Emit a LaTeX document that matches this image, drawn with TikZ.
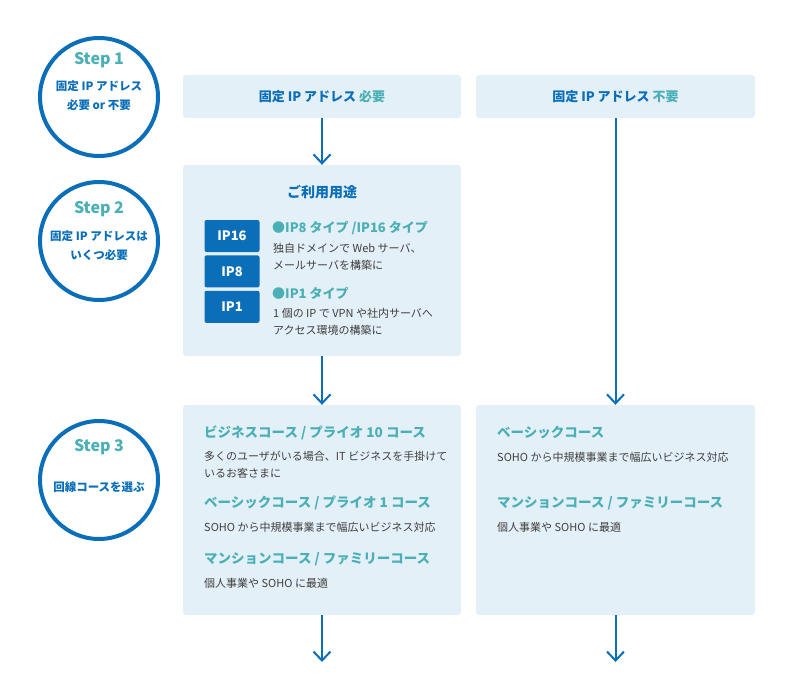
\documentclass[tikz,border=0pt]{standalone}
\usepackage{fontspec}
\setmainfont{Noto Sans CJK JP}
\usepackage{tikz}
\usetikzlibrary{arrows.meta,positioning}
\definecolor{flowblue}{HTML}{0A6EB8}
\definecolor{flowteal}{HTML}{4BB0B5}
\definecolor{panelfill}{HTML}{E4F0F8}
\definecolor{bodygray}{HTML}{3F3F3F}

\begin{document}
\begin{tikzpicture}[x=1pt,y=-1pt,
    stepcircle/.style={circle, draw=flowblue, line width=4pt, minimum size=118pt, inner sep=0pt},
    steptitle/.style={text=flowteal, font=\bfseries\fontsize{16}{18}\selectfont, inner sep=0pt},
    stepnote/.style={text=flowblue, font=\bfseries\fontsize{11.5}{19}\selectfont, align=center, inner sep=0pt},
    panel/.style={fill=panelfill, rounded corners=3pt, inner sep=0pt},
    panelhead/.style={text=flowblue, font=\bfseries\fontsize{13}{15}\selectfont},
    ipbox/.style={fill=flowblue, rounded corners=2pt, text=white, font=\bfseries\fontsize{13}{15}\selectfont, minimum width=55pt, minimum height=32pt, inner sep=0pt},
    itemhead/.style={text=flowteal, font=\bfseries\fontsize{13.5}{15}\selectfont, anchor=west, inner sep=0pt},
    itembody/.style={text=bodygray, font=\fontsize{11}{17}\selectfont, anchor=west, align=left, inner sep=0pt},
    flow/.style={draw=flowblue, line width=2pt, -{Straight Barb[length=9pt,width=17pt,line width=2pt]}}]
    \useasboundingbox (0,0) rectangle (790,690);

    \node [stepcircle] (c1) at (99,97) {};
    \node [stepcircle] (c2) at (99,241) {};
    \node [stepcircle] (c3) at (99,480) {};
    \node [steptitle] (t1) at (99,60) {Step 1};
    \node [stepnote] (n1) at (99,96) {固定 IP アドレス\\必要 or 不要};
    \node [steptitle] (t2) at (99,209) {Step 2};
    \node [stepnote] (n2) at (99,245.5) {固定 IP アドレスは\\いくつ必要};
    \node [steptitle] (t3) at (99,447) {Step 3};
    \node [stepnote] (n3) at (99,487) {回線コースを選ぶ};

    \node [panel, minimum width=278pt, minimum height=43pt, panelhead] (need) at (322,96.5) {固定 IP アドレス \textcolor{flowteal}{必要}};
    \node [panel, minimum width=279pt, minimum height=43pt, panelhead] (noneed) at (615.5,96.5) {固定 IP アドレス \textcolor{flowteal}{不要}};
    \node [panel, minimum width=278pt, minimum height=191pt] (use) at (322,260.5) {};
    \node [panel, minimum width=278pt, minimum height=210pt] (coursea) at (322,510) {};
    \node [panel, minimum width=279pt, minimum height=210pt] (courseb) at (615.5,510) {};
    \coordinate (enda) at (322,662);
    \coordinate (endb) at (615.5,662);

    \node [panelhead, font=\bfseries\fontsize{14}{16}\selectfont] (usetitle) at (322,192) {ご利用用途};
    \node [ipbox] (ip16) at (232,236) {IP16};
    \node [ipbox, below=3pt of ip16] (ip8) {IP8};
    \node [ipbox, below=3pt of ip8] (ip1) {IP1};
    \node [itemhead, font=\bfseries\fontsize{13}{15}\selectfont] (h16) at (272,228) {●IP8 タイプ /IP16 タイプ};
    \node [itembody] (b16) at (273,256.5) {独自ドメインで Web サーバ、\\メールサーバを構築に};
    \node [itemhead, font=\bfseries\fontsize{13}{15}\selectfont] (h1) at (272,293) {●IP1 タイプ};
    \node [itembody] (b1) at (273,321.5) {1 個の IP で VPN や社内サーバへ\\アクセス環境の構築に};

    \node [itemhead] (ha1) at (204,433) {ビジネスコース / プライオ 10 コース};
    \node [itembody, font=\fontsize{11}{16.5}\selectfont] (ba1) at (204,465) {多くのユーザがいる場合、IT ビジネスを手掛けて\\いるお客さまに};
    \node [itemhead] (ha2) at (204,503) {ベーシックコース / プライオ 1 コース};
    \node [itembody] (ba2) at (204,527) {SOHO から中規模事業まで幅広いビジネス対応};
    \node [itemhead] (ha3) at (204,559) {マンションコース / ファミリーコース};
    \node [itembody] (ba3) at (204,583) {個人事業や SOHO に最適};

    \node [itemhead] (hb1) at (497,433) {ベーシックコース};
    \node [itembody] (bb1) at (497,457) {SOHO から中規模事業まで幅広いビジネス対応};
    \node [itemhead] (hb2) at (497,503) {マンションコース / ファミリーコース};
    \node [itembody] (bb2) at (497,527) {個人事業や SOHO に最適};

    \draw
        (need) edge[flow] (use)
        (use) edge[flow] (coursea)
        (noneed) edge[flow] (courseb)
        (coursea) edge[flow] (enda)
        (courseb) edge[flow] (endb);
\end{tikzpicture}
\end{document}
